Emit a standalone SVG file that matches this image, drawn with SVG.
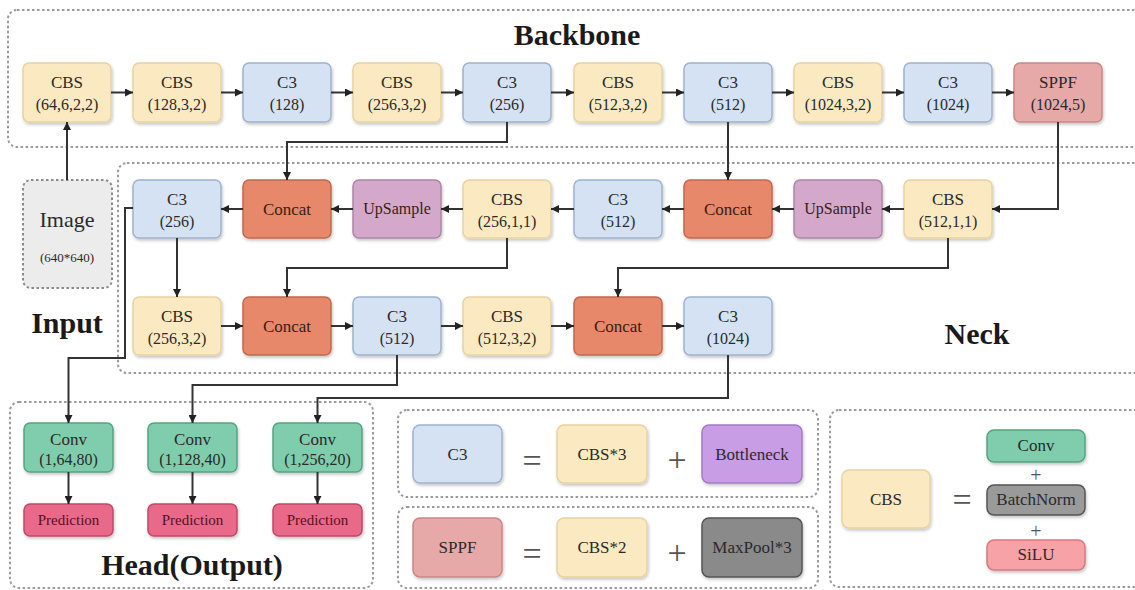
<svg xmlns="http://www.w3.org/2000/svg" width="1135" height="590" viewBox="0 0 1135 590">
  <defs>
    <marker id="arrow" viewBox="0 0 10 10" refX="10" refY="5" markerWidth="9" markerHeight="8" markerUnits="userSpaceOnUse" orient="auto">
      <path d="M0,0 L10,5 L0,10 z" fill="#222"/>
    </marker>
    <filter id="shadow" x="-10%" y="-10%" width="130%" height="140%">
      <feDropShadow dx="1" dy="2" stdDeviation="1.5" flood-color="#000" flood-opacity="0.22"/>
    </filter>
    <style>
      .group { fill: none; stroke: #9a9a9a; stroke-width: 2; stroke-dasharray: 2.5 2.5; }
      .box { stroke-width: 1.5; filter: url(#shadow); }
      .cbs { fill: #fbe9c1; stroke: #e6d3a2; }
      .c3 { fill: #d4e2f4; stroke: #9fb3cc; }
      .sppf { fill: #e7a9a8; stroke: #c98886; }
      .concat { fill: #e8886a; stroke: #c2684e; }
      .ups { fill: #d3a8cb; stroke: #ad86a6; }
      .conv { fill: #7fcdac; stroke: #58a384; }
      .pred { fill: #e8698a; stroke: #c04868; }
      .bneck { fill: #c99ce6; stroke: #a57bc2; }
      .pool { fill: #8a8a8a; stroke: #555; }
      .bn { fill: #9a9a9a; stroke: #555; }
      .silu { fill: #f6a2a6; stroke: #d07c82; }
      .img { fill: #ececec; stroke: #8a8a8a; stroke-width: 2; stroke-dasharray: 2.5 2.5; }
      text { font-family: "Liberation Serif", "Times New Roman", serif; text-anchor: middle; fill: #2a2a2a; }
      .t { font-size: 17px; }
      .p { font-size: 16px; }
      .title { font-size: 30px; font-weight: bold; fill: #1a1a1a; }
      .dark { fill: #3a1d12; }
      .predt { font-size: 15px; fill: #5a1020; }
      .op { font-size: 34px; fill: #555; }
      .op2 { font-size: 20px; fill: #555; }
      .wire { fill: none; stroke: #333; stroke-width: 2; }
    </style>
  </defs>

  <rect width="1135" height="590" fill="#fff"/>

  <!-- section frames -->
  <rect class="group" x="8" y="10" width="1140" height="137" rx="9"/>
  <rect class="group" x="118" y="163" width="1030" height="210" rx="9"/>
  <rect class="group" x="10" y="402" width="363" height="186" rx="9"/>
  <rect class="group" x="398" y="410" width="420" height="87" rx="9"/>
  <rect class="group" x="398" y="507" width="420" height="81" rx="9"/>
  <rect class="group" x="830" y="410" width="320" height="177" rx="9"/>

  <text class="title" x="577" y="45">Backbone</text>
  <text class="title" x="977" y="344">Neck</text>
  <text class="title" x="67" y="333">Input</text>
  <text class="title" x="192" y="575">Head(Output)</text>

  <!-- input -->
  <g id="input">
    <rect class="img" x="23" y="180" width="89" height="108" rx="8"/>
    <text x="67" y="227" style="font-size:22px">Image</text>
    <text x="67" y="262" style="font-size:13px">(640*640)</text>
  </g>

  <!-- backbone -->
  <g id="bb-cbs1"><rect class="box cbs" x="23" y="63" width="88" height="59" rx="6"/><text class="t" x="67" y="88">CBS</text><text class="p" x="67" y="110">(64,6,2,2)</text></g>
  <g id="bb-cbs2"><rect class="box cbs" x="133" y="63" width="88" height="59" rx="6"/><text class="t" x="177" y="88">CBS</text><text class="p" x="177" y="110">(128,3,2)</text></g>
  <g id="bb-c3-1"><rect class="box c3" x="243" y="63" width="88" height="59" rx="6"/><text class="t" x="287" y="88">C3</text><text class="p" x="287" y="110">(128)</text></g>
  <g id="bb-cbs3"><rect class="box cbs" x="353" y="63" width="88" height="59" rx="6"/><text class="t" x="397" y="88">CBS</text><text class="p" x="397" y="110">(256,3,2)</text></g>
  <g id="bb-c3-2"><rect class="box c3" x="463" y="63" width="88" height="59" rx="6"/><text class="t" x="507" y="88">C3</text><text class="p" x="507" y="110">(256)</text></g>
  <g id="bb-cbs4"><rect class="box cbs" x="574" y="63" width="88" height="59" rx="6"/><text class="t" x="618" y="88">CBS</text><text class="p" x="618" y="110">(512,3,2)</text></g>
  <g id="bb-c3-3"><rect class="box c3" x="684" y="63" width="88" height="59" rx="6"/><text class="t" x="728" y="88">C3</text><text class="p" x="728" y="110">(512)</text></g>
  <g id="bb-cbs5"><rect class="box cbs" x="794" y="63" width="88" height="59" rx="6"/><text class="t" x="838" y="88">CBS</text><text class="p" x="838" y="110">(1024,3,2)</text></g>
  <g id="bb-c3-4"><rect class="box c3" x="904" y="63" width="88" height="59" rx="6"/><text class="t" x="948" y="88">C3</text><text class="p" x="948" y="110">(1024)</text></g>
  <g id="bb-sppf"><rect class="box sppf" x="1014" y="63" width="88" height="59" rx="6"/><text class="t" x="1058" y="88">SPPF</text><text class="p" x="1058" y="110">(1024,5)</text></g>

  <!-- neck, upper row -->
  <g id="nk-c3-a"><rect class="box c3" x="133" y="180" width="88" height="58" rx="6"/><text class="t" x="177" y="205">C3</text><text class="p" x="177" y="227">(256)</text></g>
  <g id="nk-concat-a"><rect class="box concat" x="243" y="180" width="88" height="58" rx="6"/><text class="t dark" x="287" y="215">Concat</text></g>
  <g id="nk-ups-a"><rect class="box ups" x="353" y="180" width="88" height="58" rx="6"/><text class="p dark" x="397" y="214">UpSample</text></g>
  <g id="nk-cbs-a"><rect class="box cbs" x="463" y="180" width="88" height="58" rx="6"/><text class="t" x="507" y="205">CBS</text><text class="p" x="507" y="227">(256,1,1)</text></g>
  <g id="nk-c3-b"><rect class="box c3" x="574" y="180" width="88" height="58" rx="6"/><text class="t" x="618" y="205">C3</text><text class="p" x="618" y="227">(512)</text></g>
  <g id="nk-concat-b"><rect class="box concat" x="684" y="180" width="88" height="58" rx="6"/><text class="t dark" x="728" y="215">Concat</text></g>
  <g id="nk-ups-b"><rect class="box ups" x="794" y="180" width="88" height="58" rx="6"/><text class="p dark" x="838" y="214">UpSample</text></g>
  <g id="nk-cbs-b"><rect class="box cbs" x="904" y="180" width="88" height="58" rx="6"/><text class="t" x="948" y="205">CBS</text><text class="p" x="948" y="227">(512,1,1)</text></g>

  <!-- neck, lower row -->
  <g id="nk-cbs-c"><rect class="box cbs" x="133" y="297" width="88" height="58" rx="6"/><text class="t" x="177" y="322">CBS</text><text class="p" x="177" y="344">(256,3,2)</text></g>
  <g id="nk-concat-c"><rect class="box concat" x="243" y="297" width="88" height="58" rx="6"/><text class="t dark" x="287" y="332">Concat</text></g>
  <g id="nk-c3-c"><rect class="box c3" x="353" y="297" width="88" height="58" rx="6"/><text class="t" x="397" y="322">C3</text><text class="p" x="397" y="344">(512)</text></g>
  <g id="nk-cbs-d"><rect class="box cbs" x="463" y="297" width="88" height="58" rx="6"/><text class="t" x="507" y="322">CBS</text><text class="p" x="507" y="344">(512,3,2)</text></g>
  <g id="nk-concat-d"><rect class="box concat" x="574" y="297" width="88" height="58" rx="6"/><text class="t dark" x="618" y="332">Concat</text></g>
  <g id="nk-c3-d"><rect class="box c3" x="684" y="297" width="88" height="58" rx="6"/><text class="t" x="728" y="322">C3</text><text class="p" x="728" y="344">(1024)</text></g>

  <!-- head -->
  <g id="hd-conv1"><rect class="box conv" x="24" y="423" width="89" height="49" rx="6"/><text class="t" x="68.5" y="445">Conv</text><text class="p" x="68.5" y="465">(1,64,80)</text></g>
  <g id="hd-conv2"><rect class="box conv" x="148" y="423" width="89" height="49" rx="6"/><text class="t" x="192.5" y="445">Conv</text><text class="p" x="192.5" y="465">(1,128,40)</text></g>
  <g id="hd-conv3"><rect class="box conv" x="273" y="423" width="89" height="49" rx="6"/><text class="t" x="317.5" y="445">Conv</text><text class="p" x="317.5" y="465">(1,256,20)</text></g>
  <g id="hd-pred1"><rect class="box pred" x="24" y="504" width="89" height="32" rx="6"/><text class="predt" x="68.5" y="525">Prediction</text></g>
  <g id="hd-pred2"><rect class="box pred" x="148" y="504" width="89" height="32" rx="6"/><text class="predt" x="192.5" y="525">Prediction</text></g>
  <g id="hd-pred3"><rect class="box pred" x="273" y="504" width="89" height="32" rx="6"/><text class="predt" x="317.5" y="525">Prediction</text></g>

  <!-- legend: C3 -->
  <g id="lg-c3">
    <rect class="box c3" x="413" y="425" width="89" height="58" rx="7"/><text class="t" x="457.5" y="460">C3</text>
    <text class="op" x="532" y="472">=</text>
    <rect class="box cbs" x="557" y="425" width="90" height="58" rx="7"/><text class="t" x="602" y="460">CBS*3</text>
    <text class="op" x="677" y="471">+</text>
    <rect class="box bneck" x="702" y="425" width="100" height="58" rx="7"/><text class="t" x="752" y="460">Bottleneck</text>
  </g>
  <!-- legend: SPPF -->
  <g id="lg-sppf">
    <rect class="box sppf" x="413" y="518" width="89" height="59" rx="7"/><text class="t" x="457.5" y="553">SPPF</text>
    <text class="op" x="532" y="565">=</text>
    <rect class="box cbs" x="557" y="518" width="90" height="59" rx="7"/><text class="t" x="602" y="553">CBS*2</text>
    <text class="op" x="677" y="564">+</text>
    <rect class="box pool" x="702" y="518" width="100" height="59" rx="7"/><text class="t" x="752" y="553">MaxPool*3</text>
  </g>
  <!-- legend: CBS -->
  <g id="lg-cbs">
    <rect class="box cbs" x="842" y="470" width="88" height="58" rx="7"/><text class="t" x="886" y="505">CBS</text>
    <text class="op" x="962" y="511">=</text>
    <rect class="box conv" x="987" y="430" width="98" height="32" rx="7"/><text class="t" x="1036" y="451">Conv</text>
    <text class="op2" x="1036" y="482">+</text>
    <rect class="box bn" x="987" y="485" width="98" height="30" rx="7"/><text class="t" x="1036" y="505">BatchNorm</text>
    <text class="op2" x="1036" y="538">+</text>
    <rect class="box silu" x="987" y="540" width="98" height="30" rx="7"/><text class="t" x="1036" y="560">SiLU</text>
  </g>

  <!-- connectors -->
  <g id="connectors" class="wire">
    <path d="M67,180 V122" marker-end="url(#arrow)"/>
    <path d="M111,92.5 H133" marker-end="url(#arrow)"/>
    <path d="M221,92.5 H243" marker-end="url(#arrow)"/>
    <path d="M331,92.5 H353" marker-end="url(#arrow)"/>
    <path d="M441,92.5 H463" marker-end="url(#arrow)"/>
    <path d="M551,92.5 H574" marker-end="url(#arrow)"/>
    <path d="M662,92.5 H684" marker-end="url(#arrow)"/>
    <path d="M772,92.5 H794" marker-end="url(#arrow)"/>
    <path d="M882,92.5 H904" marker-end="url(#arrow)"/>
    <path d="M992,92.5 H1014" marker-end="url(#arrow)"/>

    <path d="M507,122 V142 H287 V180" marker-end="url(#arrow)"/>
    <path d="M728,122 V180" marker-end="url(#arrow)"/>
    <path d="M1058,122 V209 H992" marker-end="url(#arrow)"/>

    <path d="M904,209 H882" marker-end="url(#arrow)"/>
    <path d="M794,209 H772" marker-end="url(#arrow)"/>
    <path d="M684,209 H662" marker-end="url(#arrow)"/>
    <path d="M574,209 H551" marker-end="url(#arrow)"/>
    <path d="M463,209 H441" marker-end="url(#arrow)"/>
    <path d="M353,209 H331" marker-end="url(#arrow)"/>
    <path d="M243,209 H221" marker-end="url(#arrow)"/>

    <path d="M177,238 V297" marker-end="url(#arrow)"/>
    <path d="M507,238 V268 H287 V297" marker-end="url(#arrow)"/>
    <path d="M948,238 V268 H618 V297" marker-end="url(#arrow)"/>

    <path d="M221,326 H243" marker-end="url(#arrow)"/>
    <path d="M331,326 H353" marker-end="url(#arrow)"/>
    <path d="M441,326 H463" marker-end="url(#arrow)"/>
    <path d="M551,326 H574" marker-end="url(#arrow)"/>
    <path d="M662,326 H684" marker-end="url(#arrow)"/>

    <path d="M133,208 H125 V358 H68.5 V423" marker-end="url(#arrow)"/>
    <path d="M397,355 V385 H192.5 V423" marker-end="url(#arrow)"/>
    <path d="M728,355 V398 H317.5 V423" marker-end="url(#arrow)"/>

    <path d="M68.5,472 V504" marker-end="url(#arrow)"/>
    <path d="M192.5,472 V504" marker-end="url(#arrow)"/>
    <path d="M317.5,472 V504" marker-end="url(#arrow)"/>
  </g>
</svg>
